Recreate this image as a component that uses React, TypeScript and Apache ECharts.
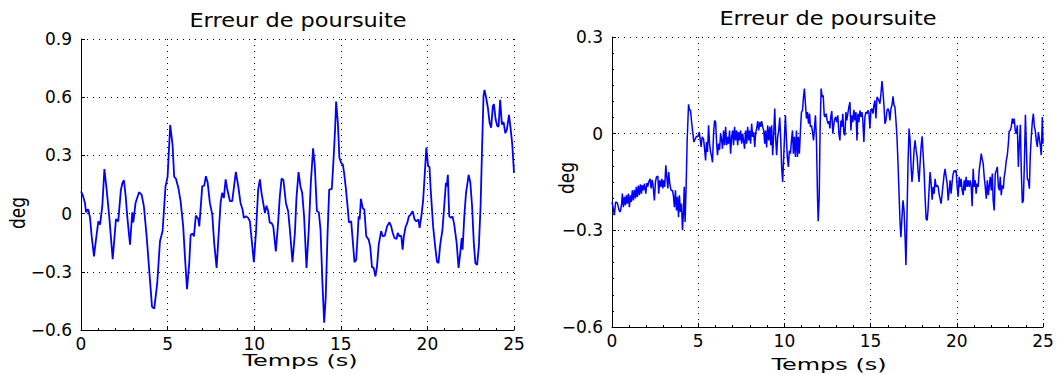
import React, { useEffect, useRef } from "react";
import * as echarts from "echarts";

const chartTitle = "Erreur de poursuite";
const timeLabel = "Temps (s)";
const valueLabel = "deg";
const timeTicks = [0, 5, 10, 15, 20, 25];
const leftDegTicks = [-0.6, -0.3, 0, 0.3, 0.6, 0.9];
const rightDegTicks = [-0.6, -0.3, 0, 0.3];

// Left panel: tracking error [time (s), error (deg)]
const leftSeries: [number, number][] = [
  [0, 0.115], [0.1, 0.095], [0.23, 0.055], [0.29, 0.007], [0.37, 0.02], [0.42, 0.02], [0.52, -0.02],
  [0.62, -0.12], [0.75, -0.22], [0.87, -0.13], [1.0, -0.04], [1.1, -0.057], [1.23, 0.038], [1.35, 0.23],
  [1.48, 0.124], [1.63, -0.014], [1.83, -0.235], [2.02, -0.028], [2.15, -0.04], [2.3, 0.12], [2.4, 0.16],
  [2.48, 0.172], [2.58, 0.09], [2.67, -0.014], [2.83, -0.16], [2.96, 0.007], [3.02, -0.045], [3.15, 0.055],
  [3.35, 0.11], [3.5, 0.098], [3.63, 0.038], [3.79, -0.117], [3.98, -0.34], [4.1, -0.48], [4.23, -0.49],
  [4.4, -0.36], [4.56, -0.143], [4.71, -0.09], [4.88, 0.14], [5.0, 0.19], [5.15, 0.457], [5.29, 0.35],
  [5.38, 0.19], [5.48, 0.18], [5.62, 0.133], [5.75, 0.064], [5.9, -0.066], [6.0, -0.22], [6.12, -0.39],
  [6.25, -0.255], [6.33, -0.11], [6.44, -0.103], [6.52, -0.117], [6.63, -0.01], [6.77, -0.028], [6.83, -0.066],
  [7.0, 0.14], [7.12, 0.145], [7.21, 0.193], [7.31, 0.162], [7.44, 0.055], [7.58, -0.005], [7.69, -0.152],
  [7.83, -0.28], [7.94, -0.117], [8.06, 0.055], [8.15, 0.107], [8.25, 0.081], [8.35, 0.176], [8.44, 0.128],
  [8.6, 0.064], [8.73, 0.064], [8.85, 0.15], [8.94, 0.215], [9.08, 0.14], [9.21, 0.055], [9.33, 0.02],
  [9.4, -0.022], [9.52, -0.014], [9.65, -0.022], [9.75, -0.04], [9.87, -0.15], [9.98, -0.25], [10.1, -0.1],
  [10.23, 0.124], [10.33, 0.176], [10.42, 0.107], [10.62, 0.003], [10.71, 0.041], [10.81, 0.012], [10.9, -0.048],
  [11.0, -0.048], [11.1, -0.066], [11.25, -0.195], [11.38, -0.048], [11.48, 0.09], [11.58, 0.181], [11.69, 0.172],
  [11.83, 0.055], [11.96, 0.012], [12.06, -0.083], [12.21, -0.25], [12.35, -0.1], [12.44, 0.081], [12.56, 0.214],
  [12.67, 0.14], [12.77, 0.107], [12.88, -0.014], [13.02, -0.28], [13.15, -0.083], [13.27, 0.16], [13.4, 0.336],
  [13.5, 0.245], [13.62, 0.012], [13.73, 0.007], [13.83, -0.083], [13.94, -0.36], [14.04, -0.562], [14.13, -0.43],
  [14.23, -0.117], [14.33, 0.124], [14.48, 0.128], [14.57, 0.262], [14.67, 0.434], [14.73, 0.578], [14.83, 0.469],
  [14.92, 0.288], [15.02, 0.262], [15.12, 0.253], [15.19, 0.21], [15.29, 0.133], [15.39, 0.038], [15.47, -0.045],
  [15.6, -0.04], [15.7, -0.15], [15.79, -0.25], [15.89, -0.238], [15.97, -0.117], [16.03, -0.014], [16.09, -0.03],
  [16.16, 0.076], [16.26, 0.03], [16.36, 0.02], [16.47, -0.117], [16.61, -0.134], [16.7, -0.17], [16.8, -0.276],
  [16.9, -0.28], [17.0, -0.324], [17.09, -0.272], [17.19, -0.16], [17.33, -0.09], [17.42, -0.117], [17.54, -0.114],
  [17.67, -0.066], [17.81, -0.045], [17.91, -0.066], [18.0, -0.1], [18.1, -0.126], [18.22, -0.131], [18.29, -0.1],
  [18.39, -0.117], [18.49, -0.114], [18.57, -0.186], [18.64, -0.117], [18.74, -0.069], [18.84, -0.048], [18.93, -0.014],
  [19.03, -0.005], [19.15, 0.012], [19.26, -0.03], [19.36, -0.04], [19.48, -0.03], [19.55, -0.074], [19.65, -0.014],
  [19.75, 0.064], [19.84, 0.193], [19.94, 0.34], [20.04, 0.245], [20.12, 0.24], [20.19, 0.124], [20.33, -0.066],
  [20.45, -0.17], [20.55, -0.247], [20.64, -0.255], [20.74, -0.16], [20.87, -0.083], [20.97, 0.038], [21.07, 0.159],
  [21.12, 0.141], [21.18, 0.2], [21.26, -0.014], [21.36, -0.022], [21.45, -0.014], [21.55, -0.057], [21.69, -0.152],
  [21.8, -0.28], [21.9, -0.2], [21.98, -0.126], [22.03, -0.186], [22.13, -0.014], [22.23, 0.107], [22.33, 0.167],
  [22.38, 0.2], [22.48, 0.159], [22.58, 0.038], [22.68, -0.152], [22.77, -0.255], [22.87, -0.264], [22.97, -0.17],
  [23.07, 0.038], [23.16, 0.348], [23.24, 0.607], [23.3, 0.638], [23.39, 0.598], [23.49, 0.547], [23.59, 0.469],
  [23.68, 0.443], [23.78, 0.555], [23.84, 0.564], [23.94, 0.486], [24.03, 0.452], [24.11, 0.448], [24.2, 0.586],
  [24.3, 0.46], [24.4, 0.472], [24.5, 0.414], [24.59, 0.434], [24.71, 0.509], [24.81, 0.434], [24.9, 0.357],
  [25.0, 0.21],
];

// Right panel: tracking error [time (s), error (deg)]
const rightSeries: [number, number][] = [
  [0, -0.212], [0.06, -0.228], [0.14, -0.253], [0.21, -0.212], [0.31, -0.215], [0.41, -0.238], [0.48, -0.243],
  [0.56, -0.217], [0.6, -0.186], [0.66, -0.228], [0.72, -0.196], [0.78, -0.222], [0.83, -0.191], [0.89, -0.217],
  [0.95, -0.186], [1.01, -0.228], [1.07, -0.191], [1.12, -0.212], [1.18, -0.176], [1.24, -0.207], [1.3, -0.174],
  [1.36, -0.201], [1.41, -0.165], [1.47, -0.196], [1.53, -0.161], [1.59, -0.191], [1.65, -0.157], [1.71, -0.186],
  [1.76, -0.16], [1.82, -0.176], [1.88, -0.155], [1.96, -0.186], [2.02, -0.153], [2.07, -0.165], [2.13, -0.15],
  [2.21, -0.14], [2.27, -0.17], [2.33, -0.143], [2.38, -0.16], [2.46, -0.207], [2.52, -0.15], [2.58, -0.134],
  [2.66, -0.132], [2.71, -0.186], [2.77, -0.145], [2.83, -0.165], [2.89, -0.14], [2.95, -0.17], [3.0, -0.145],
  [3.06, -0.165], [3.12, -0.098], [3.18, -0.134], [3.24, -0.17], [3.29, -0.119], [3.35, -0.155], [3.43, -0.176],
  [3.51, -0.176], [3.57, -0.196], [3.62, -0.228], [3.68, -0.176], [3.74, -0.238], [3.8, -0.196], [3.86, -0.259],
  [3.91, -0.191], [3.97, -0.243], [4.03, -0.217], [4.09, -0.3], [4.15, -0.238], [4.19, -0.165], [4.24, -0.274],
  [4.3, -0.165], [4.36, -0.021], [4.44, 0.091], [4.5, 0.072], [4.55, 0.074], [4.61, 0.041], [4.67, 0.01],
  [4.75, -0.026], [4.83, -0.016], [4.9, -0.008], [4.98, -0.01], [5.06, 0.005], [5.12, -0.021], [5.17, -0.041],
  [5.23, -0.01], [5.31, -0.016], [5.37, -0.047], [5.43, -0.083], [5.48, -0.026], [5.54, -0.057], [5.6, 0.026],
  [5.66, -0.031], [5.72, -0.057], [5.78, -0.072], [5.83, -0.089], [5.89, 0], [5.95, 0.041], [6.01, 0.036],
  [6.07, -0.031], [6.12, -0.067], [6.18, -0.031], [6.24, -0.05], [6.3, 0], [6.36, -0.021], [6.41, -0.047],
  [6.47, 0.01], [6.53, -0.036], [6.59, 0.021], [6.65, -0.036], [6.71, -0.01], [6.76, -0.031], [6.82, 0.01],
  [6.88, -0.062], [6.94, -0.01], [7.0, 0.01], [7.05, -0.036], [7.11, 0.021], [7.17, -0.021], [7.23, 0.01],
  [7.29, -0.036], [7.34, 0.005], [7.4, -0.021], [7.46, 0.01], [7.52, -0.031], [7.58, 0], [7.64, -0.026],
  [7.69, -0.047], [7.75, 0.01], [7.81, -0.031], [7.87, 0.021], [7.93, -0.021], [7.98, 0.01], [8.04, -0.031],
  [8.1, 0.031], [8.16, -0.01], [8.22, 0.005], [8.28, -0.041], [8.33, 0], [8.39, 0.016], [8.45, 0.039],
  [8.51, 0.01], [8.57, 0.036], [8.62, 0.021], [8.68, 0.039], [8.74, 0.021], [8.8, 0.01], [8.86, -0.031],
  [8.91, 0.01], [8.97, -0.043], [9.03, 0.026], [9.09, -0.021], [9.15, 0.021], [9.21, -0.036], [9.26, 0.026],
  [9.32, -0.067], [9.38, 0], [9.44, 0.078], [9.5, -0.021], [9.55, -0.067], [9.61, -0.01], [9.67, 0.01],
  [9.73, 0.05], [9.79, -0.021], [9.84, -0.103], [9.9, -0.15], [9.96, -0.072], [10.02, 0.01], [10.06, 0.057],
  [10.12, -0.021], [10.17, -0.072], [10.23, -0.103], [10.29, -0.052], [10.35, -0.062], [10.41, -0.021], [10.47, 0.01],
  [10.52, -0.062], [10.58, -0.01], [10.64, -0.072], [10.7, 0.01], [10.76, -0.072], [10.81, -0.01], [10.87, -0.062],
  [10.93, 0.01], [10.99, 0.067], [11.05, 0.072], [11.1, 0.109], [11.16, 0.14], [11.22, 0.093], [11.28, 0.047],
  [11.34, 0.067], [11.4, 0.031], [11.46, 0.062], [11.51, 0.021], [11.57, 0.026], [11.63, 0.005], [11.69, -0.021],
  [11.75, 0.021], [11.8, 0.057], [11.86, -0.021], [11.92, -0.196], [11.96, -0.272], [12.02, -0.196], [12.07, 0.01],
  [12.13, 0.14], [12.19, 0.114], [12.25, 0.119], [12.31, 0.057], [12.36, 0.052], [12.42, 0.062], [12.48, 0.041],
  [12.54, 0.031], [12.58, 0.039], [12.64, 0.016], [12.69, 0.052], [12.75, 0.07], [12.81, 0], [12.87, 0.031],
  [12.93, 0.047], [12.98, 0.052], [13.04, 0.036], [13.1, 0.057], [13.16, 0], [13.22, -0.021], [13.28, 0.041],
  [13.33, 0.021], [13.39, 0.062], [13.45, 0], [13.51, -0.005], [13.57, 0.067], [13.62, 0.041], [13.68, 0.062],
  [13.74, 0.083], [13.8, 0.098], [13.86, 0.01], [13.91, 0.057], [13.97, 0.036], [14.03, 0.074], [14.09, 0.041],
  [14.15, 0.067], [14.21, -0.021], [14.26, 0.062], [14.32, 0.036], [14.38, 0.072], [14.44, 0.052], [14.5, 0.067],
  [14.55, 0.041], [14.61, -0.026], [14.67, 0.052], [14.73, 0.067], [14.79, 0.062], [14.84, 0.072], [14.9, 0.067],
  [14.96, 0.016], [15.02, 0.072], [15.08, 0.078], [15.14, 0.062], [15.19, 0.088], [15.25, 0.103], [15.31, 0.047],
  [15.37, 0.114], [15.43, 0.109], [15.48, 0.103], [15.54, 0.093], [15.6, 0.124], [15.66, 0.163], [15.72, 0.129],
  [15.78, 0.083], [15.83, 0.031], [15.89, 0.041], [15.95, 0.072], [16.01, 0.078], [16.07, 0.067], [16.12, 0.041],
  [16.18, 0.078], [16.24, 0.088], [16.3, 0.116], [16.36, 0.088], [16.41, 0.083], [16.47, 0.041], [16.53, -0.01],
  [16.59, -0.093], [16.65, -0.186], [16.71, -0.279], [16.76, -0.321], [16.82, -0.259], [16.88, -0.207], [16.94, -0.238],
  [17.0, -0.321], [17.05, -0.408], [17.11, -0.259], [17.17, -0.093], [17.23, 0.016], [17.29, -0.021], [17.34, -0.093],
  [17.4, -0.15], [17.46, -0.114], [17.52, -0.052], [17.58, -0.021], [17.64, -0.052], [17.7, -0.072], [17.75, -0.114],
  [17.81, -0.15], [17.87, -0.093], [17.93, -0.041], [17.99, -0.008], [18.04, -0.057], [18.1, -0.114], [18.16, -0.196],
  [18.22, -0.264], [18.28, -0.269], [18.33, -0.238], [18.39, -0.176], [18.45, -0.119], [18.51, -0.155], [18.57, -0.205],
  [18.63, -0.165], [18.69, -0.186], [18.74, -0.14], [18.8, -0.165], [18.86, -0.16], [18.92, -0.165], [18.97, -0.186],
  [19.03, -0.202], [19.09, -0.217], [19.15, -0.186], [19.21, -0.155], [19.26, -0.129], [19.32, -0.109], [19.38, -0.134],
  [19.44, -0.155], [19.5, -0.207], [19.56, -0.176], [19.61, -0.145], [19.67, -0.186], [19.73, -0.15], [19.79, -0.124],
  [19.85, -0.114], [19.91, -0.119], [19.96, -0.114], [20.02, -0.165], [20.08, -0.196], [20.14, -0.134], [20.19, -0.165],
  [20.25, -0.14], [20.31, -0.176], [20.37, -0.191], [20.43, -0.145], [20.48, -0.176], [20.54, -0.134], [20.6, -0.165],
  [20.66, -0.145], [20.72, -0.165], [20.78, -0.145], [20.83, -0.16], [20.89, -0.225], [20.95, -0.109], [21.01, -0.165],
  [21.07, -0.145], [21.12, -0.186], [21.18, -0.155], [21.24, -0.165], [21.3, -0.114], [21.36, -0.088], [21.42, -0.062],
  [21.47, -0.078], [21.53, -0.093], [21.59, -0.134], [21.65, -0.165], [21.71, -0.202], [21.77, -0.145], [21.83, -0.191],
  [21.88, -0.165], [21.94, -0.134], [22.0, -0.176], [22.06, -0.124], [22.11, -0.207], [22.17, -0.238], [22.23, -0.124],
  [22.29, -0.114], [22.35, -0.103], [22.41, -0.165], [22.47, -0.176], [22.52, -0.134], [22.58, -0.191], [22.64, -0.16],
  [22.7, -0.171], [22.75, -0.134], [22.81, -0.114], [22.87, -0.083], [22.93, -0.067], [22.99, -0.031], [23.04, 0.008],
  [23.1, 0.01], [23.16, 0.021], [23.22, 0.047], [23.28, 0.031], [23.33, 0.047], [23.39, 0.01], [23.45, 0],
  [23.51, 0.026], [23.57, -0.103], [23.63, -0.031], [23.69, 0.028], [23.74, -0.114], [23.8, -0.215], [23.86, -0.207],
  [23.92, -0.093], [23.98, 0.059], [24.03, -0.031], [24.09, -0.14], [24.15, -0.145], [24.21, -0.171], [24.26, -0.072],
  [24.32, -0.01], [24.38, 0.036], [24.44, 0.062], [24.5, 0.021], [24.55, 0.01], [24.61, -0.021], [24.67, -0.041],
  [24.73, 0.005], [24.79, -0.016], [24.84, -0.036], [24.9, -0.067], [24.96, 0.052], [25.0, -0.031],
];

const FONT = "'DejaVu Sans', 'Liberation Sans', Arial, sans-serif";

function fmtDeg(v: number): string {
  if (Math.abs(v) < 1e-9) return "0";
  return (v < 0 ? "\u2212" : "") + Math.abs(v).toFixed(1);
}

function makeXAxis(gridIndex: number) {
  return {
    type: "value",
    gridIndex,
    min: timeTicks[0],
    max: timeTicks[timeTicks.length - 1],
    interval: timeTicks[1] - timeTicks[0],
    axisLine: { show: true, onZero: false, lineStyle: { color: "#000", width: 1 } },
    axisTick: { show: true, inside: true, length: 4, lineStyle: { color: "#000" } },
    minorTick: { show: true, splitNumber: 5, length: 2, lineStyle: { color: "#000" } },
    axisLabel: { fontFamily: FONT, fontSize: 17, color: "#000", margin: 5, formatter: (v: number) => String(v) },
    splitLine: { show: true, lineStyle: { color: "#000", width: 1, type: [1, 5] } },
  };
}

function makeYAxis(gridIndex: number, ticks: number[], minorSplit: number) {
  return {
    type: "value",
    gridIndex,
    min: ticks[0],
    max: ticks[ticks.length - 1],
    interval: ticks[1] - ticks[0],
    axisLine: { show: true, onZero: false, lineStyle: { color: "#000", width: 1 } },
    axisTick: { show: true, inside: true, length: 4, lineStyle: { color: "#000" } },
    minorTick: { show: minorSplit > 0, splitNumber: Math.max(minorSplit, 1), length: 2, lineStyle: { color: "#000" } },
    axisLabel: { fontFamily: FONT, fontSize: 17, color: "#000", margin: 9, formatter: fmtDeg },
    splitLine: { show: true, lineStyle: { color: "#000", width: 1, type: [1, 5] } },
  };
}

function label(text: string, x: number, y: number, fontSize: number, scaleX: number, scaleY = 1, rotation = 0) {
  return {
    type: "text",
    x,
    y,
    rotation,
    scaleX,
    scaleY,
    style: {
      text,
      fontFamily: FONT,
      fontSize,
      fill: "#000",
      align: "center",
      verticalAlign: "middle",
      textAlign: "center",
      textVerticalAlign: "middle",
    },
  };
}

export default function App() {
  const ref = useRef<HTMLDivElement>(null);

  useEffect(() => {
    if (!ref.current) return;
    const chart = echarts.init(ref.current, undefined, { renderer: "svg" });
    chart.setOption({
      animation: false,
      backgroundColor: "#fff",
      grid: [
        { left: 81, top: 39, width: 433, height: 291, outerBoundsMode: "none" },
        { left: 612, top: 37, width: 431, height: 290, outerBoundsMode: "none" },
      ],
      xAxis: [makeXAxis(0), makeXAxis(1)],
      yAxis: [makeYAxis(0, leftDegTicks, 0), makeYAxis(1, rightDegTicks, 6)],
      graphic: [
        label(chartTitle, 298, 20.5, 19, 1.18),
        label(chartTitle, 828, 19, 19, 1.18),
        label(timeLabel, 300, 361, 15, 1.6),
        label(timeLabel, 829, 364.5, 15, 1.6),
        label(valueLabel, 17.5, 213, 17, 1, 1.2, Math.PI / 2),
        label(valueLabel, 567, 178, 17, 1, 1.2, Math.PI / 2),
      ],
      series: [
        {
          type: "line",
          xAxisIndex: 0,
          yAxisIndex: 0,
          data: leftSeries,
          showSymbol: false,
          symbol: "none",
          lineStyle: { color: "#0000ff", width: 1.8 },
        },
        {
          type: "line",
          xAxisIndex: 1,
          yAxisIndex: 1,
          data: rightSeries,
          showSymbol: false,
          symbol: "none",
          lineStyle: { color: "#0000ff", width: 1.5 },
        },
      ],
    });
    return () => chart.dispose();
  }, []);

  return (
    <div
      ref={ref}
      style={{ position: "fixed", left: 0, top: 0, width: 1062, height: 374, background: "#fff" }}
    />
  );
}
